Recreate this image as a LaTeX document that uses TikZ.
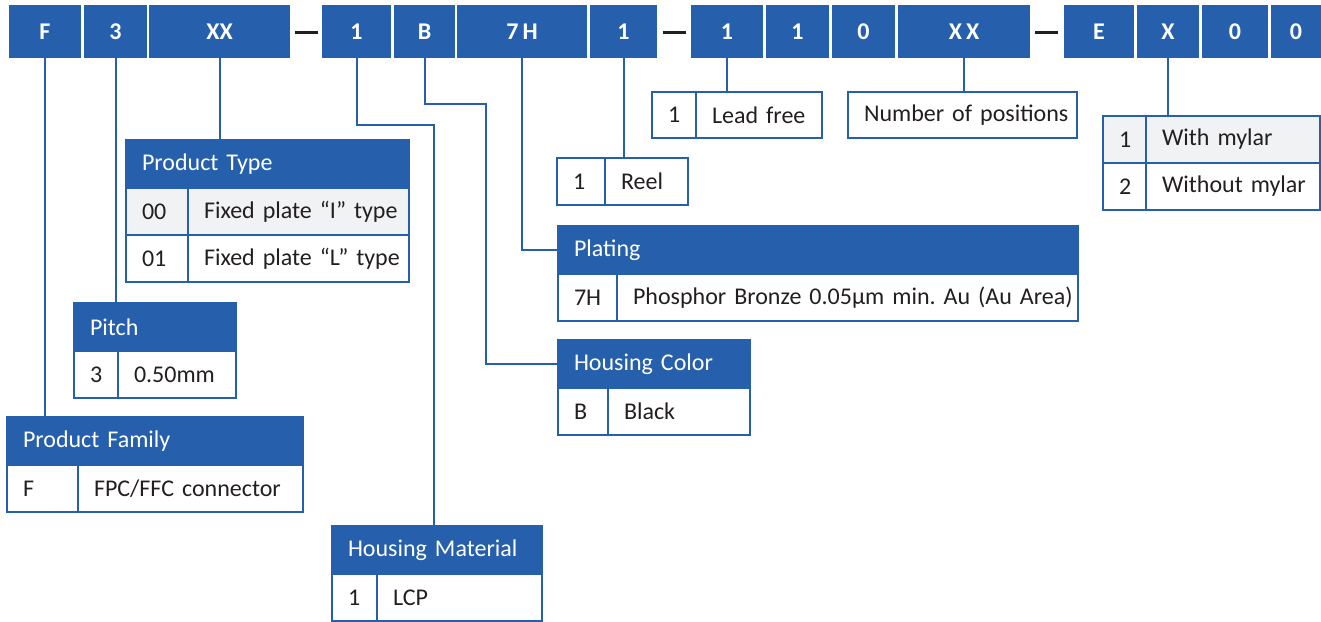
\documentclass[tikz,border=0pt]{standalone}
\usepackage{fontspec}
\setmainfont{Carlito}
\definecolor{pnblue}{RGB}{38,96,172}
\definecolor{pngray}{RGB}{241,242,244}
\definecolor{pntext}{RGB}{35,31,32}
\frenchspacing

\begin{document}
\begin{tikzpicture}[x=0.5pt,y=-0.5pt,
    font=\fontsize{12}{14}\selectfont, text=pntext,
    code/.style={fill=pnblue, text=white, font=\fontsize{12}{14}\selectfont\bfseries,
        minimum height=26.5pt, inner sep=0pt, outer sep=0pt, anchor=north west},
    dashbar/.style={fill=pntext, minimum width=11.5pt, minimum height=1.5pt, inner sep=0pt},
    tbl/.style={draw=pnblue, line width=1pt, anchor=north west, outer sep=0pt,
        inner xsep=8pt, inner ysep=0pt, align=left, minimum height=23.5pt,
        execute at begin node={\hbox\bgroup}, execute at end node={\egroup}},
    hdr/.style={tbl, fill=pnblue, text=white, minimum height=24pt},
    wd/.style={text width={#1*0.5pt-16pt}},
    lk/.style={draw=pnblue, line width=1pt}]
    \useasboundingbox (0,0) rectangle (1321,621);
    % part number boxes
    \foreach \l/\r/\t/\n in {9/81/F/cF, 84/147/3/c3, 149/290/XX/cT, 322/391/1/cM,
        394/455/B/cB, 457/587/7\,H/cP, 590/657/1/cR, 691/763/1/cL, 766/829/1/cA,
        832/895/0/cZ, 898/1030/X\,X/cN, 1064/1134/E/cE, 1137/1199/X/cX,
        1202/1268/0/cY, 1271/1321/0/cW}
        {\node[code, minimum width={(\r-\l)*0.5pt}] (\n) at (\l,5) {\t};}
    \foreach \x/\n in {306/d1, 674/d2, 1046/d3}
        {\node[dashbar] (\n) at (\x,32) {};}

    % Product Type
    \node[hdr, wd=283] (typeH) at (126,140) {Product Type};
    \node[tbl, wd=62, fill=pngray] (typeK1) at (typeH.south west) {00};
    \node[tbl, wd=221, fill=pngray] (typeV1) at (typeK1.north east) {Fixed plate “I” type};
    \node[tbl, wd=62] (typeK2) at (typeK1.south west) {01};
    \node[tbl, wd=221] (typeV2) at (typeK2.north east) {Fixed plate “L” type};
    % Pitch
    \node[hdr, wd=162] (pitchH) at (74,303) {Pitch};
    \node[tbl, wd=44] (pitchK) at (pitchH.south west) {3};
    \node[tbl, wd=118] (pitchV) at (pitchK.north east) {0.50mm};
    % Product Family
    \node[hdr, wd=296] (famH) at (7,417) {Product Family};
    \node[tbl, wd=71] (famK) at (famH.south west) {F};
    \node[tbl, wd=225] (famV) at (famK.north east) {FPC/FFC connector};
    % Housing Material
    \node[hdr, wd=210] (matH) at (332,526) {Housing Material};
    \node[tbl, wd=45] (matK) at (matH.south west) {1};
    \node[tbl, wd=165] (matV) at (matK.north east) {LCP};
    % Reel
    \node[tbl, wd=48] (reelK) at (557,158) {1};
    \node[tbl, wd=83] (reelV) at (reelK.north east) {Reel};
    % Plating
    \node[hdr, wd=520] (platH) at (558,226) {Plating};
    \node[tbl, wd=59] (platK) at (platH.south west) {7H};
    \node[tbl, wd=461] (platV) at (platK.north east) {Phosphor Bronze 0.05µm min. Au (Au Area)};
    % Housing Color
    \node[hdr, wd=192] (colH) at (558,340) {Housing Color};
    \node[tbl, wd=50] (colK) at (colH.south west) {B};
    \node[tbl, wd=142] (colV) at (colK.north east) {Black};
    % Lead free
    \node[tbl, wd=44, minimum height=23pt] (leadK) at (652,92) {1};
    \node[tbl, wd=126, minimum height=23pt] (leadV) at (leadK.north east) {Lead free};
    % Number of positions
    \node[tbl, wd=229, minimum height=23pt] (numV) at (848,92) {Number of positions};
    % Mylar
    \node[tbl, wd=43, fill=pngray] (mylK1) at (1103,116) {1};
    \node[tbl, wd=174, fill=pngray] (mylV1) at (mylK1.north east) {With mylar};
    \node[tbl, wd=43] (mylK2) at (mylK1.south west) {2};
    \node[tbl, wd=174] (mylV2) at (mylK2.north east) {Without mylar};

    % connectors
    \draw[lk] (cF.south) -- (cF.south |- famH.north);
    \draw[lk] (c3.south) -- (c3.south |- pitchH.north);
    \draw[lk] (cT.south) -- (cT.south |- typeH.north);
    \coordinate (matbend) at (434,125);
    \draw[lk] (cM.south) |- (matbend) -- (matbend |- matH.north);
    \coordinate (colbend) at (486,104);
    \draw[lk] (cB.south) |- (colbend) |- (colH.west);
    \draw[lk] (cP.south) |- (platH.west);
    \draw[lk] (cR.south) -- (cR.south |- reelK.north);
    \draw[lk] (cL.south) -- (cL.south |- leadK.north);
    \draw[lk] (cN.south) -- (cN.south |- numV.north);
    \draw[lk] (cX.south) -- (cX.south |- mylK1.north);
\end{tikzpicture}
\end{document}
